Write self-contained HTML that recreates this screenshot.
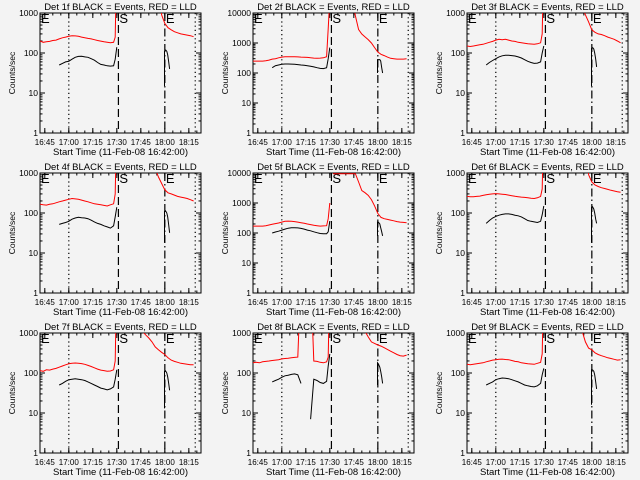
<!DOCTYPE html>
<html><head><meta charset="utf-8">
<style>
html,body{margin:0;padding:0;background:#f3f3f3;}
svg{display:block;font-family:"Liberation Sans",sans-serif;}
</style></head>
<body>
<svg id="chart" width="640" height="480" viewBox="0 0 640 480" xmlns="http://www.w3.org/2000/svg">
<rect x="0" y="0" width="640" height="480" fill="#f3f3f3"/>
</svg>
<script>
// time grids (minutes since 16:42:00)
const tPre = [0,2,4,6,8,10,12,14,16,18,20,22,24,26,28,30,32,34,36,38,40,42,44,46,47,48];
const tPost = [50,52,54,56,58,60,62,64,66,68,70,72,74,76,78,80,82,84,86,88,90,92,94,96];
const tBlkPost = [77.8,77.8,78.3,78.6,79.2,79.8,80.4,81];
const xTickMinutes = [3,18,33,48,63,78,93];
const xTickLabels = ["16:45","17:00","17:15","17:30","17:45","18:00","18:15"];
const detLabels = ["1f","2f","3f","4f","5f","6f","7f","8f","9f"];
const yMaxDecades = [3,4,3,3,4,3,3,3,3];
const N = null, H = 30000;
const redPre = [
 [200,185,190,195,205,210,225,240,250,262,270,268,262,250,240,232,225,215,205,198,190,185,180,185,250,H],
 [250,250,250,250,255,270,290,300,320,340,350,350,350,350,345,340,335,330,320,315,310,315,320,350,3000,H],
 [150,145,150,155,160,165,175,185,195,210,220,215,220,210,200,195,185,180,175,170,168,165,170,180,300,H],
 [165,160,158,165,170,180,190,200,210,220,230,225,220,210,200,190,180,170,165,160,155,150,160,170,300,H],
 [170,170,170,170,175,185,195,205,215,230,245,250,248,240,230,220,210,200,190,180,175,170,172,175,300,1000],
 [260,255,255,260,265,275,285,295,300,305,300,295,290,280,270,262,255,250,245,240,235,230,240,260,400,H],
 [115,110,120,118,125,130,140,150,160,170,175,178,176,172,165,155,145,135,125,118,115,110,112,120,200,H],
 [180,185,180,190,195,200,205,210,215,225,230,235,240,245,250,H,H,H,H,200,195,185,180,190,250,H],
 [165,160,165,170,175,180,190,200,210,215,220,222,218,215,205,195,190,180,175,170,168,165,175,185,300,H]
];
const blackPre = [
 [N,N,N,N,N,N,50,55,60,62,70,78,82,83,80,78,72,66,58,52,50,48,47,48,70,140],
 [N,N,N,N,N,N,150,175,185,195,200,200,198,195,190,185,180,175,168,160,150,142,140,150,300,700],
 [N,N,N,N,N,N,50,58,65,72,80,85,88,88,86,84,80,75,68,62,58,55,56,60,100,150],
 [N,N,N,N,N,N,52,55,58,62,70,75,78,76,75,72,66,60,55,52,48,45,42,48,80,140],
 [N,N,N,N,N,N,100,108,115,125,135,145,150,150,148,142,135,125,118,110,102,96,94,95,110,250],
 [N,N,N,N,N,N,55,65,75,82,88,92,95,95,92,88,85,80,72,65,62,60,58,62,90,150],
 [N,N,N,N,N,N,50,55,62,68,70,72,70,68,65,60,55,50,46,42,40,38,40,45,70,120],
 [N,N,N,N,N,N,60,65,70,78,85,88,92,95,90,55,N,N,7,70,65,58,55,62,150,300],
 [N,N,N,N,N,N,50,55,60,68,72,75,74,72,68,64,60,55,50,48,46,45,48,55,90,130]
];
const redPost = [
 [H,H,H,H,H,H,H,H,H,H,H,H,H,900,550,430,380,340,320,300,290,280,270,255],
 [H,H,H,H,H,H,H,8000,2800,2000,1600,1300,1000,700,500,420,380,340,310,300,290,290,290,300],
 [H,H,H,H,H,H,H,H,H,H,H,1400,900,600,380,330,300,290,270,250,235,220,200,180],
 [H,H,H,H,H,H,H,H,H,H,H,1300,800,550,380,320,300,280,260,250,240,230,215,200],
 [9500,9500,9500,9500,9500,9500,9500,9500,5000,2600,2200,1800,1300,800,450,330,300,285,270,255,240,230,225,220],
 [H,H,H,H,H,H,H,H,H,H,H,H,H,900,600,500,460,430,410,390,370,355,340,330],
 [H,H,H,H,H,H,H,1100,900,750,600,450,380,330,290,240,210,195,185,175,170,165,160,160],
 [H,H,H,H,H,H,H,H,H,H,1100,800,600,550,500,470,430,390,350,320,290,270,265,280],
 [H,H,H,H,H,H,H,H,H,H,H,1100,600,420,380,320,290,270,255,240,230,220,210,215]
];
const blackPost = [
 [15,110,115,118,110,90,60,40],
 [100,280,280,280,280,250,150,100],
 [15,130,135,135,125,100,70,45],
 [18,110,115,110,100,80,50,32],
 [80,230,230,220,200,150,110,80],
 [18,140,145,140,125,100,70,55],
 [13,110,115,110,100,80,55,37],
 [50,180,170,160,140,110,80,55],
 [16,120,120,118,110,90,60,40]
];
const markerTimes = {dot1:18, dash:49, dashdot:78, dot2:97};

const NS = "http://www.w3.org/2000/svg";
const svg = document.getElementById("chart");
function mk(tag, attrs, parent){
  const e = document.createElementNS(NS, tag);
  for (const k in attrs) e.setAttribute(k, attrs[k]);
  (parent||svg).appendChild(e);
  return e;
}
const colX = [40,253,467], PW = 161, PH = 120, TMAX = 100.6;

for (let p = 0; p < 9; p++) {
  const col = p % 3, row = Math.floor(p / 3);
  const x0 = colX[col], y0 = row * 160 + 13;
  const dec = yMaxDecades[p];
  const xs = t => x0 + t / TMAX * PW;
  const ys = v => y0 + PH - Math.log10(v) / dec * PH;
  const g = mk("g", {});
  
  
  const cp = mk("clipPath", {id: "clip" + p}, g);
  mk("rect", {x: x0, y: y0, width: PW, height: PH}, cp);

  const title = mk("text", {x: x0 + PW/2, y: row*160 + 10, "text-anchor": "middle", "font-size": "9.5", fill: "#000"}, g);
  title.textContent = "Det " + detLabels[p] + " BLACK = Events, RED = LLD";
  
  

  const frame = mk("rect", {x: x0, y: y0, width: PW, height: PH, fill: "none", stroke: "#000", "stroke-width": 1}, g);
  
  

  for (let d = 0; d <= dec; d++) {
    const y = ys(Math.pow(10, d));
    mk("line", {x1: x0, x2: x0 + 5, y1: y, y2: y, stroke: "#000"}, g);
    mk("line", {x1: x0 + PW - 5, x2: x0 + PW, y1: y, y2: y, stroke: "#000"}, g);
    const lb = mk("text", {x: x0 - 2, y: y + 3, "text-anchor": "end", "font-size": "8.5", fill: "#000"}, g);
    lb.textContent = String(Math.pow(10, d));
    
    
    if (d < dec) for (let m = 2; m <= 9; m++) {
      const ym = ys(m * Math.pow(10, d));
      mk("line", {x1: x0, x2: x0 + 2.5, y1: ym, y2: ym, stroke: "#000"}, g);
      mk("line", {x1: x0 + PW - 2.5, x2: x0 + PW, y1: ym, y2: ym, stroke: "#000"}, g);
    }
  }
  xTickMinutes.forEach((t, i) => {
    const x = xs(t);
    mk("line", {x1: x, x2: x, y1: y0 + PH, y2: y0 + PH - 5, stroke: "#000"}, g);
    mk("line", {x1: x, x2: x, y1: y0, y2: y0 + 5, stroke: "#000"}, g);
    const lb = mk("text", {x: x, y: y0 + PH + 12, "text-anchor": "middle", "font-size": "8", fill: "#000"}, g);
    lb.textContent = xTickLabels[i];
    
    
  });
  for (let t = 3; t < TMAX; t += 5) {
    const x = xs(t);
    mk("line", {x1: x, x2: x, y1: y0 + PH, y2: y0 + PH - 2.5, stroke: "#000"}, g);
    mk("line", {x1: x, x2: x, y1: y0, y2: y0 + 2.5, stroke: "#000"}, g);
  }
  const xl = mk("text", {x: x0 + PW/2, y: y0 + PH + 22, "text-anchor": "middle", "font-size": "9.5", fill: "#000"}, g);
  xl.textContent = "Start Time (11-Feb-08 16:42:00)";
  
  
  const yl = mk("text", {x: 0, y: 0, transform: "translate(" + (x0 - 25) + "," + (y0 + PH/2) + ") rotate(-90)", "text-anchor": "middle", "font-size": "8.5", fill: "#000"}, g);
  yl.textContent = "Counts/sec";
  
  

  const cg = mk("g", {"clip-path": "url(#clip" + p + ")"}, g);
  const vl = (t, dash, name) => {
    const l = mk("line", {x1: xs(t), x2: xs(t), y1: y0, y2: y0 + PH, stroke: "#000", "stroke-width": 1.2, "stroke-dasharray": dash}, cg);
    
    
  };
  vl(markerTimes.dot1, "1.2,3", "dotted-marker-start");
  vl(markerTimes.dot2, "1.2,3", "dotted-marker-end");
  vl(markerTimes.dash, "8,4", "s-marker-line");
  vl(markerTimes.dashdot, "8,3,1.5,3", "e-marker-line");

  const txt = (x, s, name) => {
    const e = mk("text", {x: x, y: y0 + 10, "font-size": "13", fill: "#000"}, cg);
    e.textContent = s;
    
    
  };
  txt(x0 + 1, "E", "start-e-label");
  txt(xs(markerTimes.dash) + 1, "S", "s-label");
  txt(xs(markerTimes.dashdot) + 1, "E", "e-label");

  const series = (ts, vs, color, name) => {
    let d = "", pen = false;
    ts.forEach((t, i) => {
      const v = vs[i];
      if (v === null) { pen = false; return; }
      d += (pen ? "L" : "M") + xs(t).toFixed(1) + "," + ys(v).toFixed(1);
      pen = true;
    });
    const e = mk("path", {d: d, fill: "none", stroke: color, "stroke-width": 1}, cg);
    
    
  };
  series(tPre, redPre[p], "#ff0000", "red-lld-pre");
  series(tPost, redPost[p], "#ff0000", "red-lld-post");
  series(tPre, blackPre[p], "#000000", "black-events-pre");
  series(tBlkPost, blackPost[p], "#000000", "black-events-post");
}
</script>
</body></html>
